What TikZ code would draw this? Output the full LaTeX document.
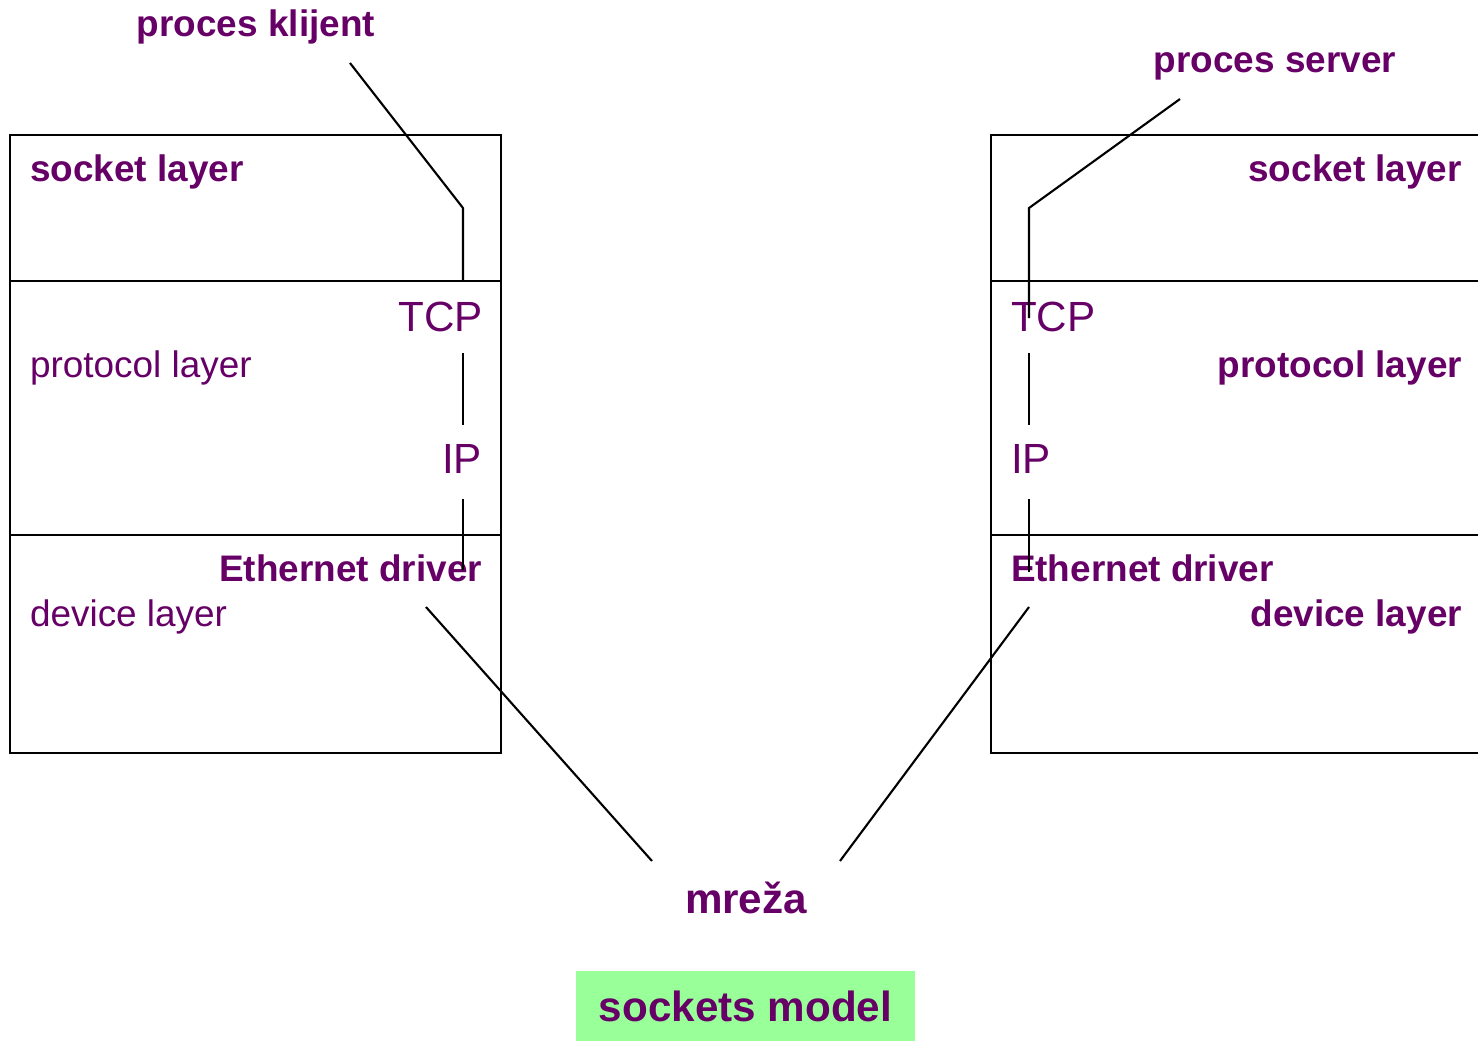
\documentclass[tikz,border=0pt]{standalone}
\usepackage{fontspec}
\setmainfont{Liberation Sans}
\definecolor{plum}{HTML}{660066}
\definecolor{mintbg}{HTML}{99FF99}
\tikzset{
	lbl/.style={text=plum, inner sep=0pt, font=\fontsize{10.5}{12}\selectfont},
	lblb/.style={text=plum, inner sep=0pt, font=\fontsize{10.5}{12}\selectfont\bfseries},
	big/.style={text=plum, inner sep=0pt, font=\fontsize{12}{14}\selectfont},
	bigb/.style={text=plum, inner sep=0pt, font=\fontsize{12}{14}\selectfont\bfseries}
}
\begin{document}
\begin{tikzpicture}[x=0.01cm, y=-0.01cm, line width=0.6pt]
	\useasboundingbox (0,0) rectangle (1478,1041);
	% client host
	\draw (10,135) rectangle (501,753);
	\draw (10,281) -- (501,281);
	\draw (10,535) -- (501,535);
	% server host (cut at the right edge)
	\draw (1478,135) -- (991,135) -- (991,753) -- (1478,753);
	\draw (991,281) -- (1478,281);
	\draw (991,535) -- (1478,535);
	% client labels
	\node [lblb, anchor=base] (klijent) at (256,36) {proces klijent};
	\node [lblb, anchor=base west] (lsock) at (29,181) {socket layer};
	\node [lbl, anchor=base west] (lprot) at (29,377) {protocol layer};
	\node [lbl, anchor=base west] (ldev) at (29,626) {device layer};
	\node [big, anchor=base east] (ltcp) at (484,331) {TCP};
	\node [big, anchor=base east] (lip) at (483,473) {IP};
	\node [lblb, anchor=base east] (leth) at (483,581) {Ethernet driver};
	% server labels
	\node [lblb, anchor=base] (server) at (1275,72) {proces server};
	\node [lblb, anchor=base east] (rsock) at (1463,181) {socket layer};
	\node [lblb, anchor=base east] (rprot) at (1463,377) {protocol layer};
	\node [lblb, anchor=base east] (rdev) at (1463,626) {device layer};
	\node [big, anchor=base west] (rtcp) at (1010,331) {TCP};
	\node [big, anchor=base west] (rip) at (1010,473) {IP};
	\node [lblb, anchor=base west] (reth) at (1010,581) {Ethernet driver};
	% network and title
	\node [bigb, anchor=base] (mreza) at (746,913) {mre\v{z}a};
	\node [bigb, fill=mintbg, minimum width=3.39cm, minimum height=0.70cm] (title) at (745.5,1006) {sockets model};
	% client path
	\coordinate (ka) at (350,63);
	\coordinate (kb) at (463,208);
	\coordinate (kc) at (463,281);
	\coordinate (kd) at (463,353);
	\coordinate (ke) at (463,425);
	\coordinate (kf) at (463,499);
	\coordinate (kg) at (463,570);
	\coordinate (kh) at (426,607);
	\coordinate (ki) at (652,861);
	\draw (ka) -- (kb) -- (kc);
	\draw (kd) -- (ke);
	\draw (kf) -- (kg);
	\draw (kh) -- (ki);
	% server path
	\coordinate (sa) at (1180,99);
	\coordinate (sb) at (1029,208);
	\coordinate (sc) at (1029,318);
	\coordinate (sd) at (1029,353);
	\coordinate (se) at (1029,425);
	\coordinate (sf) at (1029,499);
	\coordinate (sg) at (1029,572);
	\coordinate (sh) at (1029,607);
	\coordinate (si) at (840,861);
	\draw (sa) -- (sb) -- (sc);
	\draw (sd) -- (se);
	\draw (sf) -- (sg);
	\draw (sh) -- (si);
\end{tikzpicture}
\end{document}
